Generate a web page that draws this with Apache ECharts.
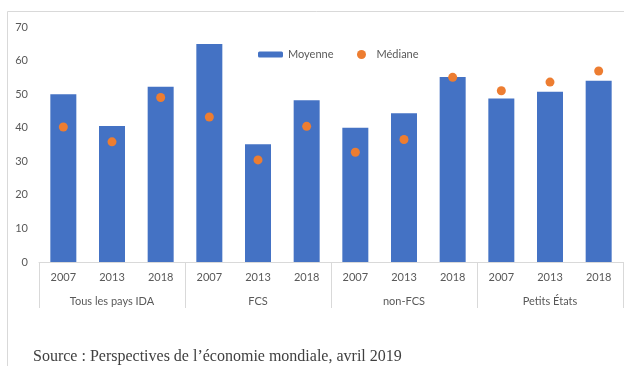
<!DOCTYPE html>
<html>
<head>
<meta charset="utf-8">
<script src="https://cdn.jsdelivr.net/npm/echarts@6/dist/echarts.min.js"></script>
<style>
  html, body { margin: 0; padding: 0; background: #ffffff; }
  #chart { width: 624px; height: 366px; }
</style>
</head>
<body>
<div id="chart"></div>
<script>
// Groups of countries and the survey years shown under each group
const groups = ['Tous les pays IDA', 'FCS', 'non-FCS', 'Petits États'];
const years = ['2007', '2013', '2018'];
// One category per (group, year) pair, in display order
const yearLabels = groups.flatMap(() => years);

// Mean and median values, same order as yearLabels
const moyenne = [50.0, 40.5, 52.2, 64.9, 35.1, 48.2, 40.0, 44.3, 55.1, 48.7, 50.7, 54.0];
const mediane = [40.2, 35.8, 49.0, 43.2, 30.4, 40.4, 32.7, 36.5, 55.0, 51.0, 53.6, 56.9];

const yTicks = { min: 0, max: 70, interval: 10 };

const textFont = 'Lato';
const textColor = '#595959';

const chart = echarts.init(document.getElementById('chart'), null, { renderer: 'canvas' });

chart.setOption({
  animation: false,
  backgroundColor: '#ffffff',
  grid: { left: 39, right: 1, top: 27, bottom: 104, containLabel: false },
  legend: [
    {
      data: ['Moyenne'],
      left: 258, top: 49, padding: 0,
      itemWidth: 25, itemHeight: 6,
      textStyle: { color: textColor, fontFamily: textFont, fontSize: 11 }
    },
    {
      data: ['Médiane'],
      left: 357, top: 49, padding: 0,
      itemWidth: 20, itemHeight: 9,
      textStyle: { color: textColor, fontFamily: textFont, fontSize: 11 }
    }
  ],
  xAxis: [
    {
      type: 'category',
      data: yearLabels,
      position: 'bottom',
      axisLine: { show: true, lineStyle: { color: '#d9d9d9', width: 1 } },
      axisTick: { show: false },
      axisLabel: { color: textColor, fontFamily: textFont, fontSize: 11, margin: 10, interval: 0 }
    },
    {
      type: 'category',
      data: groups,
      position: 'bottom',
      gridIndex: 0,
      axisLine: { show: false },
      axisTick: { show: true, length: 46, lineStyle: { color: '#d9d9d9', width: 1 } },
      axisLabel: { color: textColor, fontFamily: textFont, fontSize: 11, margin: 34, interval: 0 }
    }
  ],
  yAxis: {
    type: 'value',
    min: yTicks.min, max: yTicks.max, interval: yTicks.interval,
    axisLine: { show: false },
    axisTick: { show: false },
    splitLine: { show: false },
    axisLabel: { color: textColor, fontFamily: textFont, fontSize: 11, margin: 11 }
  },
  series: [
    {
      name: 'Moyenne',
      type: 'bar',
      xAxisIndex: 0,
      data: moyenne,
      barWidth: 26,
      itemStyle: { color: '#4472C4' }
    },
    {
      name: 'Médiane',
      type: 'scatter',
      xAxisIndex: 0,
      data: mediane,
      symbol: 'circle',
      symbolSize: 9,
      itemStyle: { color: '#ED7D31', opacity: 1 },
      z: 3
    }
  ],
  graphic: [
    {
      type: 'rect',
      shape: { x: 7.5, y: 11.5, width: 700, height: 400 },
      style: { fill: 'none', stroke: '#d9d9d9', lineWidth: 1 },
      silent: true
    },
    {
      type: 'text',
      left: 33, top: 349,
      style: {
        text: 'Source : Perspectives de l’économie mondiale, avril 2019',
        font: '16px "Liberation Serif"',
        fill: '#404040'
      },
      silent: true
    }
  ]
});
</script>
</body>
</html>
